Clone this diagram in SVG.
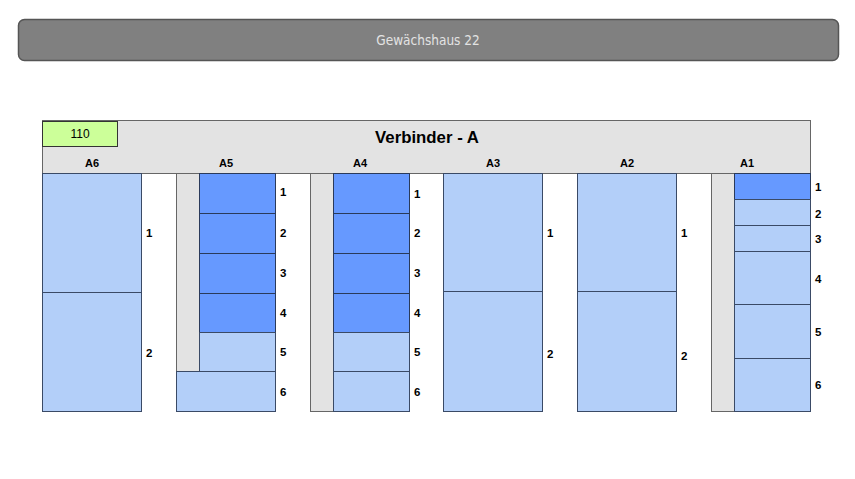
<svg xmlns="http://www.w3.org/2000/svg" width="855" height="479" viewBox="0 0 855 479">
<style>
.lb{fill:#b3cff9;stroke:#3a4a66;stroke-width:1}
.db{fill:#6699ff;stroke:#2a3a5a;stroke-width:1}
.gs{fill:#e3e3e3;stroke:#666;stroke-width:1}
.t{font-family:"Liberation Sans",Arial,sans-serif;font-weight:bold;font-size:11px;fill:#000}
.n{font-family:"Liberation Sans",Arial,sans-serif;font-weight:bold;font-size:11.5px;fill:#000}
</style>
<rect width="855" height="479" fill="#fff"/>
<g id="title">
<rect x="18.5" y="19.5" width="820" height="41" rx="6" fill="#808080" stroke="#555" stroke-width="1.5"/>
<text x="428" y="44.5" text-anchor="middle" font-family="'DejaVu Sans Condensed','Open Sans',sans-serif" font-size="13.5" fill="#e3e3e3">Gewächshaus 22</text>
</g>
<g id="verbinder">
<rect x="42.5" y="120.5" width="768" height="53" fill="#e3e3e3" stroke="#666"/>
<text x="427" y="143" text-anchor="middle" font-family="'Liberation Sans',Arial,sans-serif" font-weight="bold" font-size="16.8">Verbinder - A</text>
<rect x="42.5" y="121.5" width="75" height="25" fill="#ccff99" stroke="#333"/>
<text x="80" y="138" text-anchor="middle" font-family="'Liberation Sans',Arial,sans-serif" font-size="12">110</text>
<text class="t" x="92" y="167" text-anchor="middle">A6</text>
<text class="t" x="226" y="167" text-anchor="middle">A5</text>
<text class="t" x="360" y="167" text-anchor="middle">A4</text>
<text class="t" x="493" y="167" text-anchor="middle">A3</text>
<text class="t" x="627" y="167" text-anchor="middle">A2</text>
<text class="t" x="747" y="167" text-anchor="middle">A1</text>
</g>
<g id="A6">
<rect class="lb" x="42.5" y="173.5" width="99" height="119"/>
<rect class="lb" x="42.5" y="292.5" width="99" height="119"/>
<text class="n" x="146" y="237">1</text>
<text class="n" x="146" y="357">2</text>
</g>
<g id="A5">
<rect class="gs" x="176.5" y="173.5" width="23" height="198"/>
<rect class="db" x="199.5" y="173.5" width="76" height="40"/>
<rect class="db" x="199.5" y="213.5" width="76" height="40"/>
<rect class="db" x="199.5" y="253.5" width="76" height="40"/>
<rect class="db" x="199.5" y="293.5" width="76" height="39"/>
<rect class="lb" x="199.5" y="332.5" width="76" height="39"/>
<rect class="lb" x="176.5" y="371.5" width="99" height="40"/>
<text class="n" x="280" y="196">1</text>
<text class="n" x="280" y="237">2</text>
<text class="n" x="280" y="277">3</text>
<text class="n" x="280" y="317">4</text>
<text class="n" x="280" y="356">5</text>
<text class="n" x="280" y="396">6</text>
</g>
<g id="A4">
<rect class="gs" x="310.5" y="173.5" width="23" height="238"/>
<rect class="db" x="333.5" y="173.5" width="76" height="40"/>
<rect class="db" x="333.5" y="213.5" width="76" height="40"/>
<rect class="db" x="333.5" y="253.5" width="76" height="40"/>
<rect class="db" x="333.5" y="293.5" width="76" height="39"/>
<rect class="lb" x="333.5" y="332.5" width="76" height="39"/>
<rect class="lb" x="333.5" y="371.5" width="76" height="40"/>
<text class="n" x="414" y="198">1</text>
<text class="n" x="414" y="237">2</text>
<text class="n" x="414" y="277">3</text>
<text class="n" x="414" y="317">4</text>
<text class="n" x="414" y="356">5</text>
<text class="n" x="414" y="396">6</text>
</g>
<g id="A3">
<rect class="lb" x="443.5" y="173.5" width="99" height="118"/>
<rect class="lb" x="443.5" y="291.5" width="99" height="120"/>
<text class="n" x="547" y="237">1</text>
<text class="n" x="547" y="358">2</text>
</g>
<g id="A2">
<rect class="lb" x="577.5" y="173.5" width="99" height="118"/>
<rect class="lb" x="577.5" y="291.5" width="99" height="120"/>
<text class="n" x="681" y="237">1</text>
<text class="n" x="681" y="360">2</text>
</g>
<g id="A1">
<rect class="gs" x="711.5" y="173.5" width="23" height="238"/>
<rect class="db" x="734.5" y="173.5" width="76" height="26"/>
<rect class="lb" x="734.5" y="199.5" width="76" height="26"/>
<rect class="lb" x="734.5" y="225.5" width="76" height="26"/>
<rect class="lb" x="734.5" y="251.5" width="76" height="53"/>
<rect class="lb" x="734.5" y="304.5" width="76" height="54"/>
<rect class="lb" x="734.5" y="358.5" width="76" height="53"/>
<text class="n" x="815" y="191">1</text>
<text class="n" x="815" y="218">2</text>
<text class="n" x="815" y="243">3</text>
<text class="n" x="815" y="283">4</text>
<text class="n" x="815" y="336">5</text>
<text class="n" x="815" y="389">6</text>
</g>
<g id="connectors"></g>
</svg>
